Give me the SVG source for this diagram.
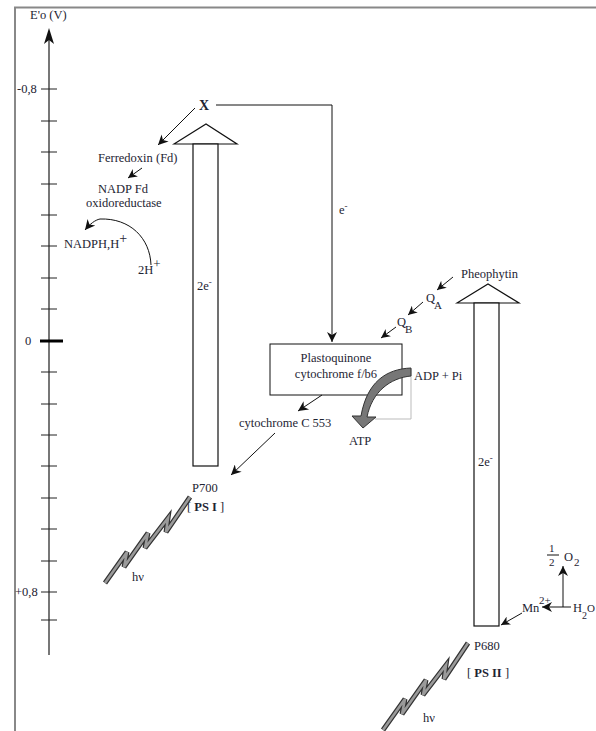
<svg xmlns="http://www.w3.org/2000/svg" width="596" height="731" viewBox="0 0 596 731">
<defs>
<marker id="arr" viewBox="0 0 10 10" refX="10" refY="5" markerWidth="12" markerHeight="10" markerUnits="userSpaceOnUse" orient="auto">
<path d="M0,0 L10,5 L0,10 L3,5 z" fill="#111"/>
</marker>
<marker id="arrs" viewBox="0 0 10 10" refX="10" refY="5" markerWidth="10" markerHeight="9" markerUnits="userSpaceOnUse" orient="auto">
<path d="M0,0 L10,5 L0,10 L3,5 z" fill="#111"/>
</marker>
</defs>
<style>
text{font-family:"Liberation Serif","Times New Roman",serif;font-size:12.5px;fill:#1e2433}
.sm{font-size:9px}
.b{font-weight:bold}
.ln{stroke:#111;stroke-width:1;fill:none}
.tick{stroke:#222;stroke-width:1}
.col{fill:#fff;stroke:#111;stroke-width:1.2}
.bolt1{fill:none;stroke:#333;stroke-width:5;stroke-linejoin:miter}
.bolt2{fill:none;stroke:#9a9a9a;stroke-width:2.6;stroke-linejoin:miter}
</style>
<rect width="596" height="731" fill="#fff"/>
<g id="frame">
<path d="M15,731 V7.5 H596" fill="none" stroke="#888" stroke-width="2"/>
</g>
<g id="axis">
<line x1="49" y1="655" x2="49" y2="32" stroke="#777" stroke-width="2"/>
<path d="M49,28 L44,44 L49,40 L54,44 z" fill="#111"/>
<g class="tick">
<line x1="41" y1="89" x2="57" y2="89"/>
<line x1="41" y1="121" x2="57" y2="121"/>
<line x1="41" y1="152" x2="57" y2="152"/>
<line x1="41" y1="184" x2="57" y2="184"/>
<line x1="41" y1="215" x2="57" y2="215"/>
<line x1="41" y1="246" x2="57" y2="246"/>
<line x1="41" y1="278" x2="57" y2="278"/>
<line x1="41" y1="309" x2="57" y2="309"/>
<line x1="41" y1="372" x2="57" y2="372"/>
<line x1="41" y1="404" x2="57" y2="404"/>
<line x1="41" y1="435" x2="57" y2="435"/>
<line x1="41" y1="466" x2="57" y2="466"/>
<line x1="41" y1="498" x2="57" y2="498"/>
<line x1="41" y1="529" x2="57" y2="529"/>
<line x1="41" y1="561" x2="57" y2="561"/>
<line x1="41" y1="592" x2="57" y2="592"/>
<line x1="41" y1="620" x2="57" y2="620"/>
</g>
<line x1="40" y1="341" x2="63" y2="341" stroke="#000" stroke-width="3"/>
<text x="30" y="19">E'o (V)</text>
<text x="17" y="93">-0,8</text>
<text x="25" y="345">0</text>
<text x="15" y="596">+0,8</text>
</g>
<g id="psI">
<polygon class="col" points="174,144 206,124 237,144"/>
<rect class="col" x="193" y="144" width="25" height="322"/>
<text x="197" y="290">2e<tspan class="sm" dy="-5">-</tspan></text>
<text x="192" y="492">P700</text>
<text x="187" y="511">[ <tspan class="b">PS I</tspan> ]</text>
</g>
<g id="X"><text x="199" y="110" class="b" style="font-size:14px">X</text></g>
<g id="ferredoxin"><text x="98" y="162">Ferredoxin (Fd)</text></g>
<g id="nadpfd"><text x="98" y="193">NADP Fd</text><text x="86" y="207">oxidoreductase</text></g>
<g id="nadph"><text x="64" y="248">NADPH,H<tspan dy="-5" style="font-size:14px">+</tspan></text></g>
<g id="twoH"><text x="138" y="274">2H<tspan dy="-6" style="font-size:13px">+</tspan></text></g>
<g id="plastoquinone">
<rect x="270" y="344" width="132" height="51" fill="#fff" stroke="#111" stroke-width="1"/>
<text x="336" y="362" text-anchor="middle">Plastoquinone</text>
<text x="336" y="378" text-anchor="middle">cytochrome f/b6</text>
</g>
<g id="cytc"><text x="239" y="427">cytochrome C 553</text></g>
<g id="atp">
<path d="M411,369 V419 H375" fill="none" stroke="#bbb" stroke-width="1"/>
<path d="M411,368 C386,369 367,382 361,416 L352,416 L363,428 L376,417 L367,417 C372,392 390,378 411,376 Z" fill="#777" stroke="#333" stroke-width="1"/>
<text x="414" y="380">ADP + Pi</text>
<text x="349" y="445">ATP</text>
</g>
<g id="psII">
<polygon class="col" points="457,303 488,284 519,303"/>
<rect class="col" x="474" y="303" width="25" height="323"/>
<text x="478" y="466">2e<tspan class="sm" dy="-5">-</tspan></text>
<text x="461" y="278">Pheophytin</text>
<text x="474" y="650">P680</text>
<text x="467" y="677">[ <tspan class="b">PS II</tspan> ]</text>
</g>
<g id="QA"><text x="426" y="302">Q</text><text x="434" y="309" style="font-size:11px">A</text></g>
<g id="QB"><text x="397" y="326">Q</text><text x="405" y="333" style="font-size:11px">B</text></g>
<g id="mn"><text x="522" y="612">Mn</text><text x="539" y="604" style="font-size:11px">2+</text></g>
<g id="h2o"><text x="573" y="612">H</text><text x="582" y="619" style="font-size:10px">2</text><text x="587" y="612" style="font-size:11px">O</text></g>
<g id="o2">
<text x="549" y="552" style="font-size:11px">1</text>
<line x1="547" y1="555" x2="559" y2="555" stroke="#111" stroke-width="1"/>
<text x="549" y="566" style="font-size:11px">2</text>
<text x="564" y="561">O</text><text x="574" y="566" style="font-size:11px">2</text>
</g>
<g id="light">
<path class="bolt1" d="M105,583 L127,552 L124,567 L148,533 L145,548 L168,518 L166,532 L190,497"/>
<path class="bolt2" d="M105,583 L127,552 L124,567 L148,533 L145,548 L168,518 L166,532 L190,497"/>
<path class="bolt1" d="M383,730 L405,699 L402,714 L426,680 L423,695 L446,665 L444,679 L468,643"/>
<path class="bolt2" d="M383,730 L405,699 L402,714 L426,680 L423,695 L446,665 L444,679 L468,643"/>
<text x="132" y="581">hν</text>
<text x="423" y="722">hν</text>
</g>
<g id="connectors">
<path class="ln" d="M216,105 H332 V342" marker-end="url(#arr)"/>
<text x="339" y="214">e<tspan class="sm" dy="-5">-</tspan></text>
<line class="ln" x1="195" y1="108" x2="158" y2="145" marker-end="url(#arr)"/>
<line class="ln" x1="142" y1="168" x2="128" y2="178" marker-end="url(#arrs)"/>
<path class="ln" d="M151,265 C150,238 130,218 100,219 C95,220 90,224 85,230" marker-end="url(#arr)"/>
<line class="ln" x1="322" y1="395" x2="298" y2="411" marker-end="url(#arr)"/>
<line class="ln" x1="275" y1="433" x2="231" y2="475" marker-end="url(#arr)"/>
<line class="ln" x1="453" y1="277" x2="437" y2="290" marker-end="url(#arrs)"/>
<line class="ln" x1="423" y1="302" x2="408" y2="315" marker-end="url(#arrs)"/>
<line class="ln" x1="396" y1="327" x2="381" y2="338" marker-end="url(#arrs)"/>
<line class="ln" x1="522" y1="613" x2="501" y2="625" marker-end="url(#arrs)"/>
<line x1="571" y1="607" x2="542" y2="607" stroke="#888" stroke-width="2" marker-end="url(#arr)"/>
<line class="ln" x1="563" y1="607" x2="563" y2="566" marker-end="url(#arr)"/>
</g>
</svg>
